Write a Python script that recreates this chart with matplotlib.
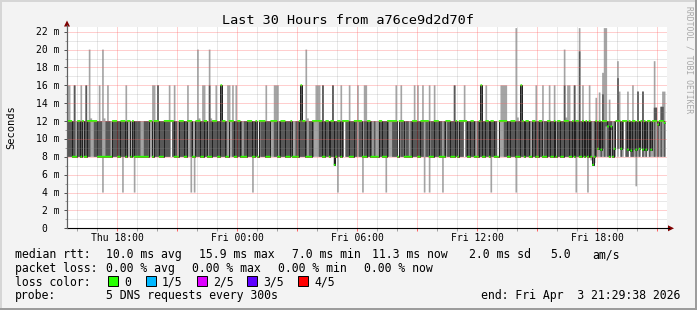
import numpy as np
import matplotlib
matplotlib.use('Agg')
import matplotlib.pyplot as plt
import matplotlib.dates as mdates
import matplotlib.transforms as mtransforms
from matplotlib.patches import Rectangle, Polygon
from datetime import datetime, timedelta

W, H = 697, 310
MONO = 'DejaVu Sans Mono'

# 5 sorted pings (ms) for each step pattern code
PATTERNS = {
    'A': (8, 8, 8, 8, 8),
    'B': (8, 8, 8, 8, 12),
    'C': (8, 8, 8, 12, 12),
    'D': (8, 8, 12, 12, 12),
    'E': (8, 12, 12, 12, 12),
    'F': (12, 12, 12, 12, 12),
}

# one code per 5 minute step, steps 0..313
base_steps = (
    "DDDCCBDDCE" "CCDDEEDDCC" "CBBCCCBDDD" "CCDDDCEEBD" "CCCCBBCCCE"
    "EBDDDCCCDD" "DDFDCCBDDD" "CCEEDBBDDD" "CCDDBCCDDD" "CCDDDCBEED"
    "CCDDCBCCDD" "DCCDAEDDDC" "CCEEDDBCDD" "DCCCDBBCCD" "DDDCBCCDEE"
    "EDDCCDDBDD" "CCDDCDFDDC" "CCDDEDDBCC" "DDCBCBBDDC" "CCDEEDDDAE"
    "DDBCCBCDDD" "CCDDFDDBCC" "DDDCCBCEDD" "CCCDBDDDFD" "CCDDCBCDDC"
    "CDDBDDCCAE" "EEDDCCDDDC" "CCCDBDDCBD" "DCCDDBCCDD" "CCDBDDCCDD"
    "DCCDBDDCCD" "CDCD"
)

# last 45 steps (Fri ~18:00 onward), explicit pings in ms
tail_pings = [
    (7.6, 8, 8, 12, 12), (7.0, 7.1, 7.1, 8, 12), (7.3, 8, 8, 12, 12),
    (8, 8, 12, 12, 14.6), (8, 8.8, 8.9, 12, 12), (8, 8.9, 12, 12, 15.2),
    (8, 8, 8.8, 12, 12), (8, 8.9, 12, 15, 17.4), (8, 8, 12, 12, 22.4),
    (8, 11.4, 12, 12, 22.4), (8, 8, 11.4, 12, 12), (8, 8, 8, 12, 14.4),
    (8, 11, 11.4, 12, 12), (8, 8, 8, 8.8, 12), (8, 8, 8.9, 12, 12),
    (12, 12, 12, 12, 12), (8, 8.9, 12, 16.8, 18.7), (8.9, 12, 12, 12, 15.3),
    (8, 8, 8.9, 12, 12), (8, 8.9, 12, 12, 12), (12, 12, 12, 12, 12),
    (8, 8, 12, 12, 12), (8, 8, 8.8, 12, 15.3), (8.9, 12, 12, 12, 12),
    (8, 8, 8.7, 12, 12), (8, 8, 12, 12, 16), (8, 8.8, 12, 12, 12),
    (4.7, 8, 8.8, 12, 12), (8, 8.9, 12, 15.3, 15.3), (8, 8, 8.9, 12, 12),
    (8.9, 12, 12, 12, 12), (8, 8, 8.8, 15.3, 15.3), (8, 12, 12, 12, 12),
    (8, 8, 8.8, 12, 12), (8.8, 12, 12, 12, 12), (8, 8, 12, 12, 12),
    (8, 8.8, 8.8, 12, 12), (8, 12, 12, 12, 12), (8, 8, 12, 13.5, 18.7),
    (8, 12, 12, 13.5, 13.5), (8, 8, 11.6, 12, 12), (8, 12, 12, 12, 12),
    (8, 8, 12, 13.6, 13.6), (8, 12, 12, 13.6, 15.3), (8, 8, 11.8, 12, 15.3),
]

# (step, ms) slowest ping
high_pings = [
    (0, 16), (1, 16), (8, 16), (13, 20), (14, 12.3), (19, 16), (21, 20), (22, 12.3), (24, 16),
    (35, 16), (51, 16), (52, 16), (61, 16), (64, 16), (72, 16), (78, 20), (79, 12.3), (81, 16),
    (82, 16), (85, 20), (86, 12.3), (89, 16), (96, 16), (97, 16), (99, 16), (101, 16), (119, 16),
    (124, 16), (125, 16), (126, 16), (143, 20), (144, 12.3), (149, 16), (150, 16), (151, 16),
    (164, 16), (169, 16), (174, 16), (178, 16), (179, 16), (197, 16), (200, 16), (208, 16),
    (210, 16), (213, 16), (217, 16), (220, 16), (238, 16), (251, 16), (260, 16), (261, 16),
    (262, 16), (263, 16), (269, 22.4), (270, 12.4), (281, 16), (285, 16), (289, 16), (292, 16),
    (298, 20), (299, 12.4), (300, 16), (301, 16), (307, 22.4), (309, 16), (313, 16),
]
# (step, ms) second slowest ping
upper_pings = [
    (4, 16), (11, 16), (54, 16), (85, 16), (153, 16), (159, 16), (232, 16),
    (298, 16), (304, 16), (307, 19.8),
]
# (step, ms) median ping
median_peaks = [(92, 16), (140, 16), (248, 16), (272, 16)]
median_dips = [(160, 7.1)]
# (step, ms) fastest ping
low_pings = [
    (21, 4), (33, 4), (40, 4), (74, 4), (76, 4), (111, 4), (160, 7.0), (162, 4), (177, 4),
    (191, 4), (214, 4), (217, 4), (225, 4), (254, 4), (269, 4), (305, 4), (312, 4),
]

p = np.array([PATTERNS[c] for c in base_steps] + tail_pings, dtype=float)
for i, v in high_pings:
    p[i, 4] = max(p[i, 4], v)
for i, v in upper_pings:
    p[i, 3] = max(p[i, 3], v)
    p[i, 4] = max(p[i, 4], v)
for i, v in median_peaks:
    p[i, 2:] = np.maximum(p[i, 2:], v)
for i, v in median_dips:
    p[i, 1:3] = v
for i, v in low_pings:
    p[i, 0] = min(p[i, 0], v)
p = np.sort(p, axis=1)

end_time = datetime(2026, 4, 3, 21, 29, 38)
start_time = end_time - timedelta(hours=30)
first_step = datetime(2026, 4, 2, 15, 30)
edges = mdates.date2num([first_step + timedelta(minutes=5 * i) for i in range(len(p) + 1)])

fig = plt.figure(figsize=(W / 100, H / 100), dpi=100, facecolor='#f3f3f3')
ax = fig.add_axes([67 / W, (H - 228.3) / H, 600 / W, 201.6 / H])
ax.set_facecolor('white')
ax.set_xlim(mdates.date2num(start_time), mdates.date2num(end_time))
ax.set_ylim(0, 22.56)

# smoke
ax.stairs(p[:, 4], edges, baseline=p[:, 0], fill=True, color='#a4a4a4', lw=0, zorder=2)
ax.stairs(p[:, 3], edges, baseline=p[:, 1], fill=True, color='#585858', lw=0, zorder=3)
# median line + loss colour
ax.stairs(p[:, 2], edges, baseline=None, color='#202020', lw=0.7, zorder=4)
sw = 1.0 / 8.936
ax.stairs(p[:, 2] + sw, edges, baseline=p[:, 2] - sw, fill=True, color='#26ff00', lw=0, zorder=5)

# grid
hour0 = datetime(2026, 4, 2, 16, 0)
for k in range(30):
    t = hour0 + timedelta(hours=k)
    major = t.hour % 3 == 0
    ax.axvline(mdates.date2num(t), color='#ff5f5f' if major else '#8c8c8c',
               alpha=0.6 if major else 0.4, lw=0.72, ls=(0, (1, 1)), zorder=6)
for v in range(1, 23):
    major = v % 2 == 0
    ax.axhline(v, color='#ff5f5f' if major else '#8c8c8c',
               alpha=0.6 if major else 0.4, lw=0.72, ls=(0, (1, 1)), zorder=6)

for s in ['top', 'right']:
    ax.spines[s].set_visible(False)
ax.spines['bottom'].set_color('black')
ax.spines['left'].set_color('#606060')
ax.spines['bottom'].set_linewidth(0.8)
ax.spines['left'].set_linewidth(0.8)

major_x = [mdates.date2num(hour0 + timedelta(hours=k)) for k in range(30) if (16 + k) % 3 == 0]
minor_x = [mdates.date2num(hour0 + timedelta(hours=k)) for k in range(30) if (16 + k) % 3 != 0]
ax.set_xticks(major_x)
ax.set_xticks(minor_x, minor=True)
ax.set_yticks(range(0, 23, 2))
ax.set_yticks(range(1, 23, 2), minor=True)
ax.tick_params(axis='x', which='major', direction='out', length=2.5, width=0.7, color='#ff5f5f',
               labelbottom=False)
ax.tick_params(axis='x', which='minor', direction='out', length=2, width=0.7, color='#a0a0a0')
ax.tick_params(axis='y', which='major', direction='out', length=2.5, width=0.7, color='#505050',
               labelleft=False)
ax.tick_params(axis='y', which='minor', direction='out', length=1.5, width=0.7, color='#a0a0a0')

# x labels
xlab = [datetime(2026, 4, 2, 18), datetime(2026, 4, 3, 0), datetime(2026, 4, 3, 6),
        datetime(2026, 4, 3, 12), datetime(2026, 4, 3, 18)]
tx = mtransforms.blended_transform_factory(ax.transData, fig.transFigure)
for t in xlab:
    ax.text(mdates.date2num(t), 1 - 240.7 / H, t.strftime('%a %H:%M'), transform=tx,
            ha='center', va='baseline', family=MONO, fontsize=7)

# y labels
ty = mtransforms.offset_copy(mtransforms.blended_transform_factory(fig.transFigure, ax.transData),
                             fig=fig, y=-3.5, units='dots')
for v in range(0, 23, 2):
    lab = '%d m' % v if v else '0'
    xr = 59.5 if v else 47.5
    ax.text(xr / W, v, lab, transform=ty, ha='right', va='baseline', family=MONO, fontsize=7)

fig.text(11 / W, 1 - 127 / H, 'Seconds', rotation=90, ha='center', va='center',
         family=MONO, fontsize=7.5)
fig.text(348 / W, 1 - 24 / H, 'Last 30 Hours from a76ce9d2d70f', ha='center', va='baseline',
         family=MONO, fontsize=9.7)
fig.text(689.5 / W, 1 - 60 / H, 'RRDTOOL / TOBI OETIKER', rotation=270, ha='center', va='center',
         family=MONO, fontsize=5.8, color='#a8a8a8')

# axis extensions and arrows
fig.add_artist(plt.Line2D([67 / W, 67 / W], [1 - 228 / H, 1 - 25 / H], color='#606060', lw=0.8))
fig.add_artist(plt.Line2D([667 / W, 669 / W], [1 - 228.3 / H, 1 - 228.3 / H], color='black', lw=0.8))
fig.add_artist(Polygon([(64 / W, 1 - 26.5 / H), (70 / W, 1 - 26.5 / H), (67 / W, 1 - 20.5 / H)],
                       closed=True, transform=fig.transFigure, color='#7f0000', lw=0))
fig.add_artist(Polygon([(668 / W, 1 - 225.3 / H), (668 / W, 1 - 231.3 / H), (674 / W, 1 - 228.3 / H)],
                       closed=True, transform=fig.transFigure, color='#7f0000', lw=0))

# legend
rows = [
    (258.3, [(15, 'median rtt:'), (106, '10.0 ms avg'), (199, '15.9 ms max'), (292, '7.0 ms min'),
             (372, '11.3 ms now'), (469, '2.0 ms sd'), (550, '5.0'), (592, 'am/s')]),
    (271.9, [(15, 'packet loss:'), (106, '0.00 % avg'), (192, '0.00 % max'), (278, '0.00 % min'),
             (364, '0.00 % now')]),
    (285.7, [(15, 'loss color:')]),
    (299.2, [(15, 'probe:'), (106, '5 DNS requests every 300s')]),
]
for y, items in rows:
    for x, s in items:
        fig.text(x / W, 1 - y / H, s, ha='left', va='baseline', family=MONO, fontsize=8.3)
fig.text(680 / W, 1 - 299.2 / H, 'end: Fri Apr  3 21:29:38 2026', ha='right', va='baseline',
         family=MONO, fontsize=8.3)

loss_labels = ['0', '1/5', '2/5', '3/5', '4/5']
loss_colors = ['#26ff00', '#00b8ff', '#dd00ff', '#5e00ff', '#ff0000']
box_x = [108, 146, 197, 247, 298]
for bx, c, lab in zip(box_x, loss_colors, loss_labels):
    fig.add_artist(Rectangle((bx / W, 1 - 286 / H), 10 / W, 10 / H, transform=fig.transFigure,
                             facecolor=c, edgecolor='black', lw=0.7))
    fig.text((bx + 16) / W, 1 - 285.7 / H, lab, ha='left', va='baseline', family=MONO, fontsize=8.3)

# 3d frame
fig.add_artist(Rectangle((0, 0), 1, 2 / H, transform=fig.transFigure, color='#9c9c9c', lw=0))
fig.add_artist(Rectangle((1 - 2 / W, 0), 2 / W, 1, transform=fig.transFigure, color='#9c9c9c', lw=0))
fig.add_artist(Rectangle((0, 1 - 2 / H), 1 - 2 / W, 2 / H, transform=fig.transFigure, color='#d6d6d6', lw=0))
fig.add_artist(Rectangle((0, 2 / H), 2 / W, 1 - 4 / H, transform=fig.transFigure, color='#d6d6d6', lw=0))

fig.savefig('out.png', dpi=100, facecolor=fig.get_facecolor())
